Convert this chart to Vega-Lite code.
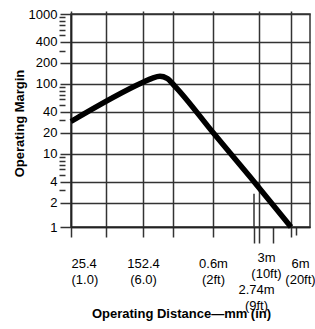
{
  "$schema": "https://vega.github.io/schema/vega-lite/v6.json",
  "width": 239,
  "height": 213,
  "autosize": {"type": "none"},
  "padding": {"left": 71, "top": 14, "right": 5, "bottom": 102},
  "background": "white",
  "config": {
    "view": {"stroke": "#333", "strokeWidth": 1.5},
    "font": "Liberation Sans"
  },
  "resolve": {"axis": {"x": "independent", "y": "independent"}},
  "layer": [
    {
      "data": {
        "values": [
          {"distance_mm": 25.4, "margin": 29.0},
          {"distance_mm": 152.4, "margin": 105.5},
          {"distance_mm": 181.8, "margin": 120.3},
          {"distance_mm": 212.5, "margin": 128.5},
          {"distance_mm": 243.9, "margin": 120.3},
          {"distance_mm": 285, "margin": 92.4},
          {"distance_mm": 600, "margin": 20.2},
          {"distance_mm": 2362, "margin": 4.7},
          {"distance_mm": 6000, "margin": 1}
        ]
      },
      "mark": {"type": "line", "color": "black", "strokeWidth": 5.5, "interpolate": "monotone"},
      "encoding": {
        "x": {
          "field": "distance_mm",
          "type": "quantitative",
          "scale": {"type": "log", "nice": false, "domain": [25.4, 152.4, 600, 2740, 3000, 6000, 9144], "range": [0, 72, 142, 183, 188, 220, 239]},
          "axis": {
            "orient": "bottom",
            "values": [25.4, 60.7, 152.4, 275.8, 600, 2740, 3000, 4065, 6000, 6700],
            "labelExpr": "datum.value == 25.4 ? ['25.4','(1.0)'] : datum.value == 152.4 ? ['152.4','(6.0)'] : datum.value == 600 ? ['0.6m','(2ft)'] : datum.value == 2740 ? ['2.74m','(9ft)'] : datum.value == 3000 ? ['3m','(10ft)'] : datum.value == 6000 ? ['6m','(20ft)'] : ''",
            "labelOverlap": false,
            "labelFontSize": 13,
            "labelColor": "black",
            "labelLineHeight": 16.5,
            "labelBaseline": "top",
            "labelPadding": {"condition": [{"test": "datum.value == 2740", "value": 40}, {"test": "datum.value == 3000", "value": 8}], "value": 20},
            "labelOffset": {"condition": [{"test": "datum.value == 3000", "value": 7}, {"test": "datum.value == 6000", "value": 9}, {"test": "datum.value == 2740", "value": 2}], "value": 0},
            "tickSize": {"condition": [{"test": "datum.value == 2740 || datum.value == 3000 || datum.value == 4065", "value": 16}, {"test": "datum.value == 6700", "value": 8}], "value": 10},
            "tickColor": "#333",
            "tickWidth": 1.5,
            "grid": true,
            "gridColor": "#333",
            "gridWidth": 1.5,
            "gridOpacity": {"condition": {"test": "datum.value == 2740 || datum.value == 4065 || datum.value == 6700", "value": 0}, "value": 1},
            "domainColor": "#222",
            "domainWidth": 1.5,
            "title": "Operating Distance—mm (in)",
            "titleFontSize": 13,
            "titleFontWeight": "bold",
            "titleColor": "black",
            "titleX": 110,
            "titlePadding": -5
          }
        },
        "y": {
          "field": "margin",
          "type": "quantitative",
          "scale": {"type": "log", "nice": false, "domain": [1, 2, 1000], "range": [213, 188.7, 0]},
          "axis": {
            "orient": "left",
            "values": [1, 2, 4, 10, 20, 40, 100, 200, 400, 1000],
            "format": "d",
            "labelOverlap": false,
            "labelFontSize": 13,
            "labelColor": "black",
            "labelPadding": 3,
            "tickSize": 11,
            "tickColor": "#333",
            "tickWidth": 1.5,
            "grid": true,
            "gridColor": "#333",
            "gridWidth": 1.5,
            "domainColor": "#222",
            "domainWidth": 1.5,
            "title": "Operating Margin",
            "titleFontSize": 13,
            "titleFontWeight": "bold",
            "titleColor": "black",
            "titleX": -52,
            "titleY": 109,
            "titleBaseline": "middle"
          }
        }
      }
    },
    {
      "data": {"values": [{"distance_mm": 2740, "top": 2.68, "bottom": 1}]},
      "mark": {"type": "rule", "color": "#333", "strokeWidth": 1.5},
      "encoding": {
        "x": {
          "field": "distance_mm",
          "type": "quantitative",
          "axis": {
            "orient": "top",
            "values": [25.4, 60.7, 152.4, 275.8, 600, 3000, 6000],
            "labels": false,
            "domain": false,
            "grid": false,
            "ticks": true,
            "tickSize": 3,
            "tickColor": "#333",
            "tickWidth": 1.5,
            "title": null
          }
        },
        "y": {
          "field": "top",
          "type": "quantitative",
          "axis": {
            "orient": "left",
            "offset": 6,
            "values": [3, 5, 6, 7, 8, 9, 30, 50, 60, 70, 80, 90, 300, 500, 600, 700, 800, 900],
            "labels": false,
            "domain": false,
            "grid": false,
            "ticks": true,
            "tickSize": 6,
            "tickColor": "#333",
            "tickWidth": 1.5,
            "title": null
          }
        },
        "y2": {"field": "bottom"}
      }
    }
  ]
}
